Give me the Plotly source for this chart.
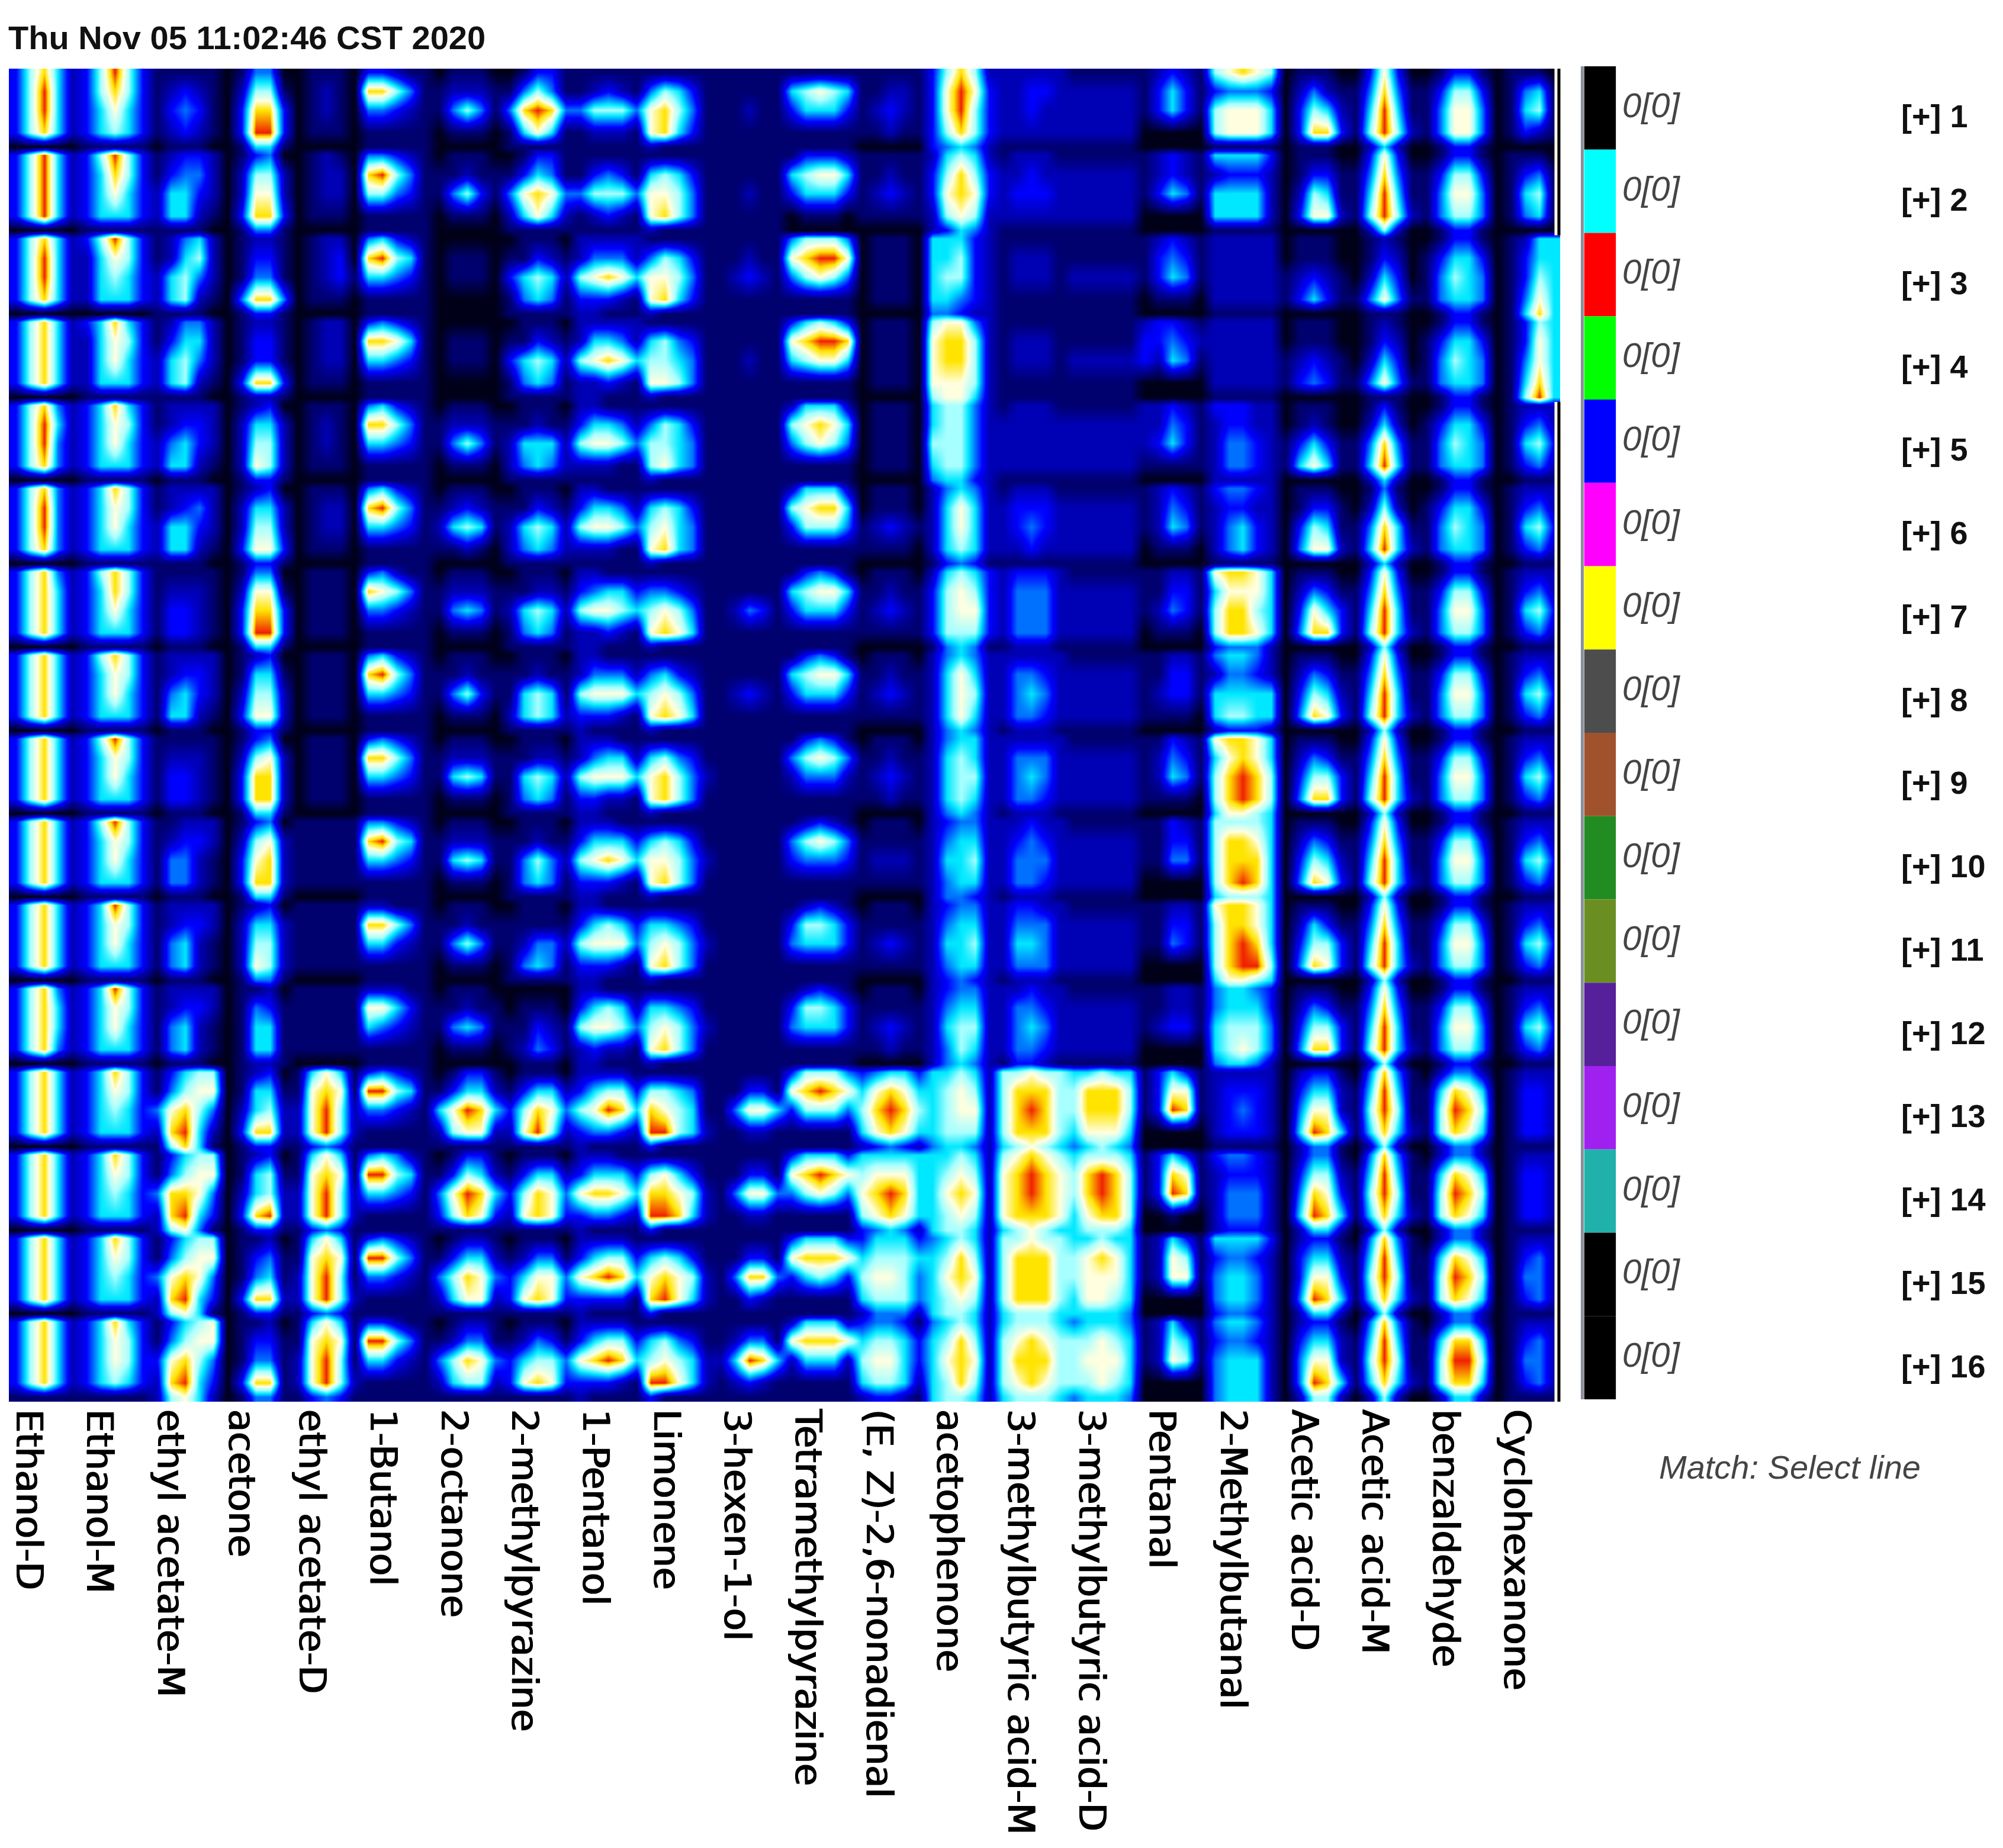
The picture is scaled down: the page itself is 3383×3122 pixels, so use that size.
# gc_ims_gallery_plot.py

import numpy as np
import plotly.graph_objs as go

# -------- CONFIG --------
W, H = 3383, 3122
page_margin = 8  # browser body margin around the plot div
plot_l, plot_r, plot_t, plot_b = 13, 2635, 116, 2368
strip_l, strip_r, strip_t, strip_b = 2675, 2729, 112, 2364

stamp = "Thu Nov 05 11:02:46 CST 2020"
match_text = "Match: Select line"

compounds = ["Ethanol-D", "Ethanol-M", "ethyl acetate-M", "acetone", "ethyl acetate-D", "1-Butanol",
             "2-octanone", "2-methylpyrazine", "1-Pentanol", "Limonene", "3-hexen-1-ol",
             "Tetramethylpyrazine", "(E, Z)-2,6-nonadienal", "acetophenone", "3-methylbutyric acid-M",
             "3-methylbutyric acid-D", "Pentanal", "2-Methylbutanal", "Acetic acid-D", "Acetic acid-M",
             "benzaldehyde", "Cyclohexanone"]

line_no = list(range(1, 17))
line_colors = ["#000000", "#00ffff", "#ff0000", "#00ff00", "#0000ff", "#ff00ff", "#ffff00", "#4d4d4d",
               "#a0522d", "#228b22", "#6b8e23", "#55209a", "#a020f0", "#20b2aa", "#000000", "#000000"]
line_counts = ["0[0]"] * 16

# intensity per gallery cell: 5 rows of 5 levels (0-9), one entry per line 1-16
ethanol_d = ["36852 36952 36952 36852 00000", "36952 36952 36952 36952 00000", "36852 36952 36952 36852 00000",
             "36852 36852 36852 36852 00000", "36842 36952 36942 36842 00000", "36842 36942 36942 36842 00000",
             "36842 36852 36852 36852 00000", "36852 36852 36852 36852 00000", "36852 36852 36852 36852 00000",
             "36852 36852 36852 36852 00000", "36852 36852 36852 36852 00000", "36842 36852 36852 36842 00000",
             "36852 36852 36852 36852 00000", "36852 36852 36852 36852 00000", "36852 36852 36852 36852 00000",
             "36852 36852 36852 36852 11111"]
ethanol_m = ["36963 36863 35753 35653 11111", "36963 35863 35753 35553 11111", "36963 25763 25653 25553 00000",
             "35853 25763 25753 25553 11111", "35853 35763 35753 35553 11111", "35863 35763 35753 35553 11111",
             "36863 35863 35753 35553 11111", "36863 35763 35753 35553 11111", "36963 35763 35753 35553 11111",
             "36963 35763 35753 35553 11111", "35963 35763 35753 35553 11111", "35963 35763 35753 35553 11111",
             "35863 35763 35653 35553 11111", "35863 35763 35653 35553 11111", "35863 35763 35653 35553 11111",
             "35853 35763 35763 35653 11111"]
ethyl_acetate_m = ["11111 12321 13431 12321 01110", "12332 13442 25532 25521 11110", "12452 12562 25642 25621 11110",
                   "12442 13552 25642 25621 11110", "12222 12332 24532 25521 01110", "12222 12342 25532 25521 11110",
                   "11111 12221 13321 13321 01110", "12222 12332 14532 15521 01110", "11111 12221 13321 13321 01110",
                   "11222 12332 14421 14421 01110", "12222 12332 14521 14521 01110", "12222 12332 14521 14521 01110",
                   "13566 14677 47864 28952 16851", "13566 14677 48874 28953 26741", "13566 14677 47874 28953 26751",
                   "13567 14677 37864 28953 26752"]
acetone = ["01440 02661 03883 03993 01551", "01340 02662 02772 03883 01441", "01221 01331 01441 04884 01331",
           "01221 01331 01331 03883 01221", "01230 02552 02662 02762 01331", "01230 02552 02662 03773 01331",
           "01440 02771 03883 03993 01551", "01230 01551 02662 03772 01331", "01340 02672 03882 03882 01551",
           "01340 02672 03782 03882 01551", "01230 02552 02662 02762 01441", "01120 01431 01551 01551 01221",
           "01230 01551 02562 03882 01331", "01230 01561 02562 03892 01331", "01120 01341 01451 03882 01331",
           "01120 01331 01441 03881 01441"]
ethyl_acetate_d = ["01110 01210 01210 01110 00000", "01210 01220 01220 01110 00000", "01220 01230 01231 01110 00000",
                   "01220 01220 01220 01110 00000", "01110 01210 01210 01110 00000", "01110 01220 01220 01110 00000",
                   "01110 01110 01110 01110 00000", "01110 01110 01110 01110 00000", "01110 01110 01110 01110 00000",
                   "11111 11111 11111 11111 00000", "11111 11111 11111 11111 00000", "11111 11111 11111 11111 00000",
                   "15751 17871 27962 27962 13431", "15751 17871 27962 27962 13431", "15751 17871 27961 27962 13431",
                   "15751 17871 27961 27962 13431"]
butanol = ["33211 88641 44321 11111 11111", "44321 89641 66431 11111 11111", "45321 89651 55431 11111 11111",
           "34321 88751 55431 11111 11111", "45321 88641 55431 11111 11111", "45321 89641 55431 11111 11111",
           "34211 87641 44321 11111 11111", "45321 89641 55431 11111 11111", "34321 88641 55431 11111 11111",
           "44321 89651 55431 11111 11111", "22111 88641 55321 11111 11111", "22211 77531 54321 11111 11111",
           "34321 99651 44321 11111 11111", "45421 99651 55431 11111 11111", "34321 99641 44321 11111 11111",
           "33211 99641 55321 11111 11111"]
octanone = ["01110 12221 14641 01110 00000", "01110 11211 14631 01110 00000", "00000 01110 01110 00000 00000",
            "00000 01110 01110 00000 00000", "01110 12221 14641 01110 00000", "01110 12321 25651 11210 00000",
            "01110 12221 14541 01110 00000", "01110 11211 14631 01110 00000", "01110 12221 15651 01110 00000",
            "01110 12221 15651 01110 00000", "01110 11211 14641 01110 00000", "01110 11211 14541 01110 00000",
            "01331 13552 57985 26772 11111", "01331 13652 47985 36873 11111", "01221 13552 46874 25772 11111",
            "01221 12441 46874 25662 11111"]
methylpyrazine = ["01331 14641 48984 15751 11111", "01331 13541 47874 25752 11111", "01110 11321 35652 14541 11111",
                  "01110 11321 35652 14541 11111", "01110 11211 25552 24542 11111", "01110 11321 25652 24542 11111",
                  "01110 11221 25652 14541 11111", "01110 11211 15651 25652 11111", "01110 11221 15652 14541 11111",
                  "01110 11211 14642 14541 11111", "01110 11111 12442 14541 11111", "00000 01110 11321 12431 01110",
                  "01110 13552 36874 27962 11111", "01110 13552 36874 27873 11111", "01110 12441 35774 37873 11111",
                  "01110 12431 35664 37873 11111"]
pentanol = ["11111 12321 46664 12221 11111", "11111 13431 46664 12321 11111", "22222 24442 67875 33321 22111",
            "22222 25542 67875 22321 22111", "22111 35542 67764 22211 11111", "22111 35542 67764 22211 11111",
            "22111 34553 67765 22321 22111", "22111 24442 67775 33321 21111", "22211 24552 67775 33221 22111",
            "22211 35553 67875 33321 22111", "22111 35653 67774 33321 22111", "22111 35652 67764 23221 22111",
            "22221 35663 67985 34432 21111", "22211 35553 78875 34432 21111", "22221 35663 78985 33331 21111",
            "22221 35663 78985 33321 21111"]
limonene = ["11111 46531 78641 78531 21111", "11111 56531 77641 78641 21111", "11111 46531 77641 78531 21111",
            "11111 56431 66541 77641 21111", "11111 46531 66541 67541 21111", "11111 56531 67541 78541 21111",
            "11111 44321 67641 78751 21111", "11111 45321 67641 78751 21111", "11111 56431 78642 78641 21111",
            "11111 56531 77642 78641 21111", "11111 55431 67642 78641 21111", "11111 55431 67642 78641 21111",
            "11111 66541 87651 99652 31111", "11111 67531 88762 99852 31111", "11111 56531 78762 89752 31111",
            "11111 56431 67652 99752 31111"]
hexenol = ["11111 11111 11211 11111 11111", "11111 11111 11211 11111 11111", "11111 11211 12321 11111 11111",
           "11111 11111 11211 11111 11111", "11111 11111 11111 11111 11111", "11111 11111 11111 11111 11111",
           "11111 11111 12431 11111 11111", "11111 11111 12321 11111 11111", "11111 11111 11111 11111 11111",
           "11111 11111 11111 11111 11111", "11111 11111 11111 11111 11111", "11111 11111 11111 11111 11111",
           "11111 11331 14775 11221 11111", "11111 11331 14774 11221 11111", "11111 11331 14884 11321 11111",
           "11111 12441 25985 12321 11111"]
tetramethylpyrazine = ["11111 56765 35553 11111 11111", "13332 56775 35553 01110 00000", "46664 78997 46764 11111 11111",
                       "35653 78998 56775 11111 11111", "25552 67875 46764 11111 11111", "25552 67885 36664 11111 11111",
                       "13431 56775 35553 11111 11111", "13431 56775 35553 11111 11111", "13431 46764 24442 11111 11111",
                       "12321 46764 34443 11111 11111", "12321 36653 45553 11111 11111", "12321 36653 45553 11111 11111",
                       "36664 78987 36664 11111 11111", "35553 78987 46764 11111 11111", "35553 78887 35653 11111 11111",
                       "25552 78887 25552 11111 11111"]
nonadienal = ["11111 11221 12321 11211 00000", "11111 11211 12321 11111 00000", "01110 01110 01110 01110 00000",
              "01110 01110 01110 01110 00000", "01110 01110 01110 01110 00000", "01110 01110 12321 11110 00000",
              "01110 11211 12321 11111 00000", "01110 11211 12321 11111 00000", "01110 11211 12321 11211 00000",
              "01110 11111 12221 11111 00000", "01110 11111 12321 11111 00000", "01110 11111 12321 11211 00000",
              "34553 57875 68986 57875 23432", "55555 67775 78985 67875 34542", "35553 56665 67764 56664 24442",
              "34431 56653 67753 56652 23321"]
acetophenone = ["36862 37973 37963 36863 34542", "25652 36863 37873 26762 23542", "55532 55632 56632 55432 44322",
                "67742 78862 78862 77762 67752", "56642 56642 66642 56642 45532", "24542 25752 25752 25652 13431",
                "25653 36763 36773 36663 14541", "24542 25752 25762 25752 24542", "24552 25652 25662 25652 24542",
                "23442 24552 25562 24552 24432", "23442 24552 25562 24552 23432", "23442 24552 25662 24652 24542",
                "55652 56762 56772 56662 45542", "55652 56762 57872 56762 56652", "45652 56862 57872 56762 56652",
                "45652 56862 57872 56862 56652"]
methylbutyric_m = ["22222 22332 22322 22222 11111", "12221 22322 23332 22222 11111", "11111 12221 12221 11111 11111",
                   "11111 12221 12221 11111 11111", "12221 22222 22222 22222 11111", "12221 23332 23432 22322 11111",
                   "23332 24442 24442 24442 12221", "22222 24432 24542 24432 12221", "22222 24442 24542 24432 12221",
                   "22322 23432 24442 24432 12221", "23322 24442 25542 24442 12221", "22322 24432 24542 24432 13321",
                   "66766 68886 68986 68886 56765", "67876 78987 78987 78887 56765", "66766 68886 68886 68886 56665",
                   "56665 67876 68886 67876 56665"]
methylbutyric_d = ["11111 22222 22222 22222 11111", "11111 22222 22222 22222 11111", "11111 11111 22222 11111 11111",
                   "11111 11111 22222 11111 11111", "11111 22222 22222 22222 11111", "11111 22222 22222 22222 11111",
                   "11111 22222 22222 22222 11111", "11111 22222 22222 22222 11111", "11111 22222 22222 22222 11111",
                   "11111 22222 22222 22222 11111", "11111 22222 22222 22222 11111", "11111 22222 22222 22222 11111",
                   "55655 68886 68886 57775 45654", "56665 68986 68986 57886 56665", "55655 67875 67775 57765 55554",
                   "45554 66765 67775 66765 45554"]
pentanal = ["12321 13531 13531 00000 00000", "12321 12321 13541 00000 00000", "12321 13431 13541 01110 00000",
            "23321 33432 32541 00000 00000", "22321 22431 23531 11111 00000", "12321 12431 12541 01110 00000",
            "11221 11331 12431 01110 00000", "11221 11331 12331 11110 00000", "11321 12431 12541 11110 00000",
            "11321 11331 11441 00000 00000", "11221 11331 11431 00000 00000", "11221 11221 12331 00000 00000",
            "13531 13771 13981 00000 00000", "13531 13871 13981 00100 00000", "12531 12761 12771 00000 00000",
            "12521 12651 12761 00000 00000"]
methylbutanal = ["67876 34443 67775 67775 11111", "55553 23332 55552 55552 11111", "22222 22222 22222 22222 11111",
                 "22222 22222 22222 22222 11111", "33322 23322 24432 24432 22222", "34432 23322 24532 24532 11111",
                 "78875 57775 68865 68875 34442", "45542 24432 55555 56655 23332", "78875 57875 68986 68986 57765",
                 "66665 68875 68885 68985 56665", "78875 68875 68985 68996 57765", "45543 45553 56664 56764 45542",
                 "22222 23332 23432 23332 11111", "34432 23332 24442 24442 23332", "55553 34432 45542 45542 34432",
                 "45542 34432 45552 45552 45552"]
acetic_d = ["01110 02421 03652 03883 01110", "01110 01331 02651 03772 00000", "01110 01110 12321 13531 00000",
            "01110 01110 12321 13431 00000", "01110 01210 13531 15751 00000", "01110 01331 03651 04772 00000",
            "01110 02431 03753 04883 00000", "01110 02431 03652 04873 00000", "01110 02431 03663 04883 00000",
            "01110 02431 03652 04873 00000", "01110 02531 03663 04873 00000", "01110 02431 03663 04883 00000",
            "02331 03552 04772 05985 02441", "02441 03662 04873 05985 02552", "02331 03552 03773 04985 02552",
            "02331 03552 04772 04985 02662"]
acetic_m = ["03730 14841 15951 16962 02520", "03730 14841 15951 16962 02620", "01210 01320 02530 14741 01110",
            "01210 01320 02530 14741 01110", "01310 02520 14841 15951 02520", "01410 02620 14851 15952 02520",
            "03730 14841 15951 16952 02620", "03730 14841 15951 16952 02620", "03730 14841 15951 16952 02620",
            "03730 14841 15951 16952 02620", "03730 14841 15951 16952 02620", "03730 14841 15951 16952 02620",
            "04841 15951 16961 15852 02620", "04841 15951 16961 15852 02620", "04841 15951 16961 15852 02620",
            "04841 15951 16961 15852 02620"]
benzaldehyde = ["01331 13663 14774 14774 01331", "01331 13663 14774 14664 01331", "01331 13553 14654 14554 01331",
                "01331 13553 14654 14554 01331", "01331 13553 14654 14554 01331", "01331 13553 14654 14554 01331",
                "01331 13663 14774 14664 01331", "01331 13663 14774 14664 01331", "01331 13663 14774 14664 01331",
                "01331 13663 14774 14664 01331", "01331 13663 14774 14664 01331", "01331 13663 14774 14664 01331",
                "02442 15875 16986 16875 02442", "02442 15875 16986 16875 02442", "02442 15875 16986 16875 02442",
                "02442 15885 16996 16885 02552"]
cyclohexanone = ["01110 01451 01561 01321 00000", "01110 01341 01561 01451 00000", "01255 01355 01365 01475 01585",
                 "01365 01375 01475 01585 01695", "01222 01342 01563 01342 00111", "01222 01342 01563 01342 00111",
                 "01222 01342 01563 01342 00111", "01222 01342 01563 01342 00111", "01222 01342 01563 01342 00111",
                 "01222 01342 01563 01342 00111", "01222 01342 01563 01342 00111", "01222 01342 01563 01342 00111",
                 "01222 01332 01332 01332 01111", "01222 01332 01332 01332 01111", "01222 01342 01442 01342 01111",
                 "01222 01342 01442 01342 01111"]

gallery = [ethanol_d, ethanol_m, ethyl_acetate_m, acetone, ethyl_acetate_d, butanol, octanone, methylpyrazine,
           pentanol, limonene, hexenol, tetramethylpyrazine, nonadienal, acetophenone, methylbutyric_m,
           methylbutyric_d, pentanal, methylbutanal, acetic_d, acetic_m, benzaldehyde, cyclohexanone]

# where the 5 samples sit inside a cell
sub_x = [0.1, 0.3, 0.5, 0.7, 0.9]
sub_y = [0.04, 0.27, 0.5, 0.77, 0.94]

colorscale = [[0 / 9, "#000018"], [1 / 9, "#00006e"], [2 / 9, "#0000b4"], [3 / 9, "#0000ff"], [4 / 9, "#0070ff"],
              [5 / 9, "#00e8ff"], [6 / 9, "#a8ffff"], [7 / 9, "#ffffe0"], [8 / 9, "#ffe400"], [9 / 9, "#f02000"]]

# -------- BUILD MATRIX --------
z = np.zeros((16 * 5, 22 * 5))
for c, column in enumerate(gallery):
    for r, cell in enumerate(column):
        for j, part in enumerate(cell.split()):
            for i, level in enumerate(part):
                z[r * 5 + j, c * 5 + i] = int(level)

x_pos = [c + f for c in range(22) for f in sub_x]
y_pos = [r + f for r in range(16) for f in sub_y]


def fx(px):
    return (px - page_margin) / W


def fy(py):
    return 1 - (py - page_margin) / H


fig = go.Figure()

fig.add_trace(go.Heatmap(
    x=x_pos, y=y_pos, z=z, zmin=0, zmax=9, zsmooth='best',
    colorscale=colorscale, showscale=False, hoverinfo='skip',
    xaxis='x', yaxis='y'
))

fig.add_trace(go.Bar(
    x=[1] * 16, y=line_no, orientation='h', width=1,
    marker=dict(color=line_colors, line=dict(width=0)),
    xaxis='x2', yaxis='y2', hoverinfo='skip'
))

# -------- TEXT --------
notes = [
    dict(text=stamp, xref='paper', yref='paper', x=fx(10), y=fy(63), xanchor='left', yanchor='middle', showarrow=False,
         font=dict(family='Liberation Sans', size=56, color='#111111', weight='bold')),
    dict(text=match_text, xref='paper', yref='paper', x=fx(2800), y=fy(2478), xanchor='left', yanchor='middle',
         showarrow=False, font=dict(family='Liberation Sans', size=56, color='#444444', style='italic')),
]
for n, count in zip(line_no, line_counts):
    notes.append(dict(text=count, xref='paper', yref='y2', x=fx(2738), y=n, xanchor='left', yanchor='middle',
                      yshift=5, showarrow=False,
                      font=dict(family='Liberation Sans', size=58, color='#444444', style='italic')))
    notes.append(dict(text=f"[+] {n}", xref='paper', yref='y2', x=fx(3209), y=n, xanchor='left', yanchor='middle',
                      yshift=-14, showarrow=False,
                      font=dict(family='Liberation Sans', size=54, color='#111111', weight='bold')))

# -------- FRAME LINES --------
shapes = []
for r0, r1 in [(0, 2), (4, 16)]:
    shapes.append(dict(type='rect', xref='paper', yref='y', x0=fx(2625), x1=fx(2636), y0=r0, y1=r1,
                       fillcolor='#fdf6e8', line=dict(width=0), layer='above'))
    shapes.append(dict(type='rect', xref='paper', yref='y', x0=fx(2630), x1=fx(2635), y0=r0, y1=r1,
                       fillcolor='#000000', line=dict(width=0), layer='above'))
shapes.append(dict(type='line', xref='paper', yref='y2', x0=fx(2672), x1=fx(2672), y0=0.5, y1=16.5,
                   line=dict(color='#8a8f9a', width=5)))

fig.update_layout(
    width=W, height=H,
    margin=dict(l=0, r=0, t=0, b=0),
    paper_bgcolor='white', plot_bgcolor='white',
    showlegend=False,
    annotations=notes,
    shapes=shapes,
    xaxis=dict(
        domain=[fx(plot_l), fx(plot_r)], range=[0, 22], showgrid=False, zeroline=False,
        tickmode='array',
        tickvals=[(46 + 119.75 * i - plot_l) / 119.2 for i in range(22)],
        ticktext=compounds, tickangle=90, ticklen=0, ticklabelstandoff=11,
        tickfont=dict(family='DejaVu Sans', size=62, color='#000000', shadow='2px 0 0 #000000'),
    ),
    yaxis=dict(
        domain=[fy(plot_b), fy(plot_t)], range=[16, 0], showgrid=False, zeroline=False,
        showticklabels=False, ticks='',
    ),
    xaxis2=dict(domain=[fx(strip_l), fx(strip_r)], range=[0, 1], visible=False, anchor='y2'),
    yaxis2=dict(domain=[fy(strip_b), fy(strip_t)], range=[16.5, 0.5], visible=False, anchor='x2'),
)

fig.write_html("out.html")
